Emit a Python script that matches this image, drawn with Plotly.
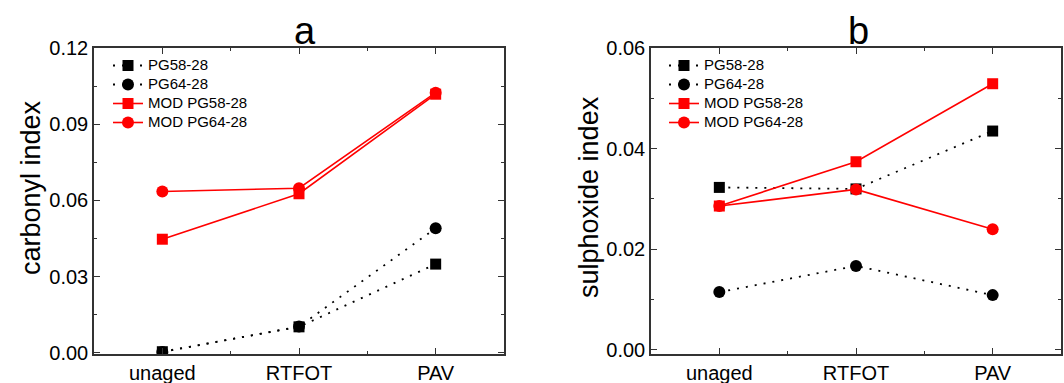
import plotly.graph_objects as go

categories = ["unaged", "RTFOT", "PAV"]

# panel a: carbonyl index
carb_pg58 = [0.0004, 0.0102, 0.0349]
carb_pg64 = [0.0003, 0.0103, 0.0490]
carb_mod58 = [0.0447, 0.0626, 0.1018]
carb_mod64 = [0.0635, 0.0648, 0.1024]

# panel b: sulphoxide index
sulf_pg58 = [0.0323, 0.0320, 0.0435]
sulf_pg64 = [0.0115, 0.0167, 0.0109]
sulf_mod58 = [0.0286, 0.0374, 0.0529]
sulf_mod64 = [0.0286, 0.0319, 0.0240]

series_names = ["PG58-28", "PG64-28", "MOD PG58-28", "MOD PG64-28"]

FONT = "Arial, Liberation Sans, sans-serif"
W, H = 1064, 383


def px(sx):
    return sx / W


def py(sy):
    return 1 - sy / H


xs = list(range(len(categories)))

styles = [
    dict(color="black", dash="2px,7px", width=1.8, symbol="square", size=11),
    dict(color="black", dash="2px,7px", width=1.8, symbol="circle", size=12),
    dict(color="#ff0000", dash="solid", width=1.6, symbol="square", size=11),
    dict(color="#ff0000", dash="solid", width=1.6, symbol="circle", size=12),
]

fig = go.Figure()

for data, xa, ya, lg in [
    ([carb_pg58, carb_pg64, carb_mod58, carb_mod64], "x", "y", "legend"),
    ([sulf_pg58, sulf_pg64, sulf_mod58, sulf_mod64], "x2", "y2", "legend2"),
]:
    for name, vals, st in zip(series_names, data, styles):
        fig.add_trace(go.Scatter(
            x=xs, y=vals, name="<span style='font-size:15px'>" + name + "</span>",
            mode="lines+markers",
            xaxis=xa, yaxis=ya, legend=lg,
            line=dict(color=st["color"], dash=st["dash"], width=st["width"]),
            marker=dict(color=st["color"], symbol=st["symbol"], size=st["size"], line=dict(width=0)),
        ))

minor_style = dict(ticks="inside", ticklen=3, tickcolor="#333333", tickwidth=1.2)
axis_common = dict(
    showline=True, linecolor="#333333", linewidth=1.5, mirror="ticks",
    ticks="inside", ticklen=6, tickwidth=1.2, tickcolor="#333333",
    showgrid=False, zeroline=False, automargin=False,
    tickfont=dict(family=FONT, size=20, color="black"),
)
xdef = dict(axis_common, range=[-0.5, 2.5], tickvals=xs, ticktext=categories,
            minor=dict(minor_style, dtick=0.5, tick0=0))

ydom = [py(354), py(48)]

legend_common = dict(xanchor="left", yanchor="top", bgcolor="rgba(0,0,0,0)",
                     font=dict(family=FONT, size=11.6), itemwidth=30, tracegroupgap=0)

fig.update_layout(
    width=W, height=H,
    margin=dict(l=0, r=0, t=0, b=0, pad=0),
    paper_bgcolor="white", plot_bgcolor="white",
    font=dict(family=FONT, color="black"),
    xaxis=dict(xdef, domain=[px(94), px(504)], anchor="y"),
    xaxis2=dict(xdef, domain=[px(651), px(1061)], anchor="y2"),
    yaxis=dict(axis_common, domain=ydom, anchor="x", range=[-0.0005, 0.12],
               tickvals=[0, 0.03, 0.06, 0.09, 0.12], tickformat=".2f",
               minor=dict(minor_style, dtick=0.015, tick0=0)),
    yaxis2=dict(axis_common, domain=ydom, anchor="x2", range=[-0.0008, 0.06],
                tickvals=[0, 0.02, 0.04, 0.06], tickformat=".2f",
                minor=dict(minor_style, dtick=0.01, tick0=0)),
    legend=dict(legend_common, x=px(108), y=py(51)),
    legend2=dict(legend_common, x=px(664), y=py(51)),
    annotations=[
        dict(text="a", x=px(305), y=py(31), xref="paper", yref="paper",
             xanchor="center", yanchor="middle",
             showarrow=False, font=dict(family=FONT, size=38)),
        dict(text="b", x=px(858), y=py(31), xref="paper", yref="paper",
             xanchor="center", yanchor="middle",
             showarrow=False, font=dict(family=FONT, size=38)),
        dict(text="carbonyl index", x=px(31), y=py(188), xref="paper", yref="paper",
             xanchor="center", yanchor="middle", textangle=-90,
             showarrow=False, font=dict(family=FONT, size=27)),
        dict(text="sulphoxide index", x=px(589), y=py(197), xref="paper", yref="paper",
             xanchor="center", yanchor="middle", textangle=-90,
             showarrow=False, font=dict(family=FONT, size=27)),
    ],
)

fig.write_html("out.html",
               config={"displayModeBar": False},
               post_script="document.body.style.margin='0';document.body.style.overflow='hidden';")
